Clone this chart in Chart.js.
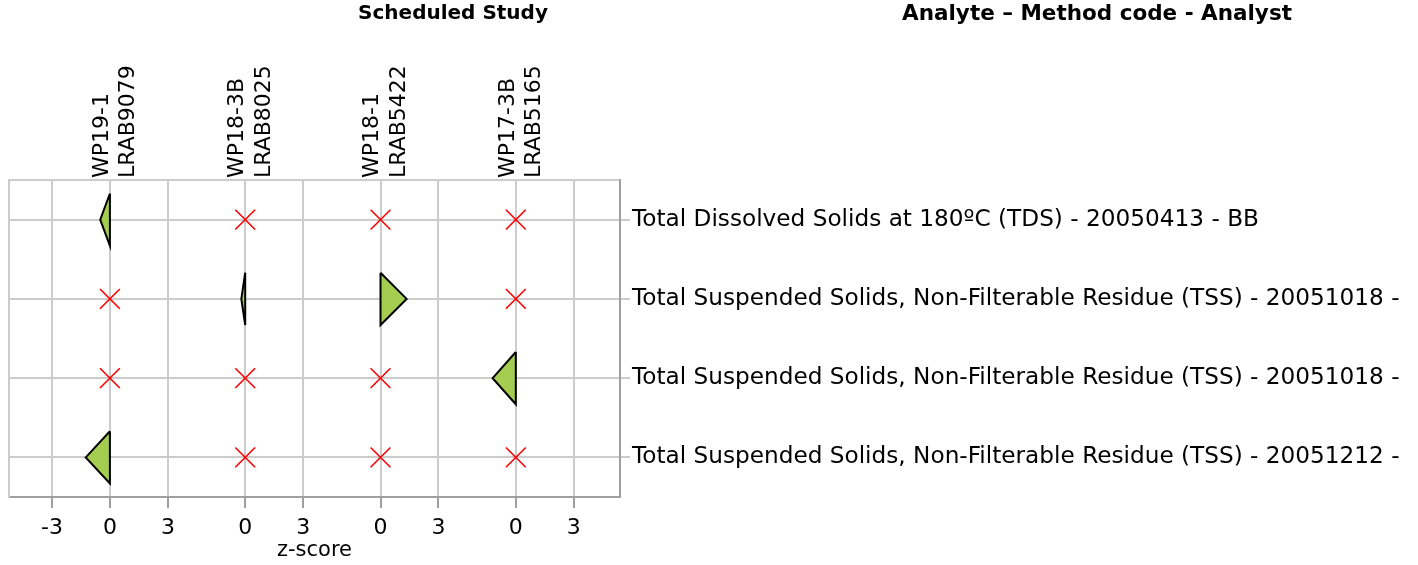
<!DOCTYPE html>
<html>
<head>
<meta charset="utf-8">
<script src="https://cdn.jsdelivr.net/npm/chart.js@4/dist/chart.umd.min.js"></script>
<style>
  html, body { margin: 0; padding: 0; background: #ffffff; }
  #wrap { width: 1418px; height: 565px; position: relative; }
</style>
</head>
<body>
<div id="wrap"><canvas id="c"></canvas></div>
<script>
// Analyte rows (top to bottom)
const analytes = [
  'Total Dissolved Solids at 180ºC (TDS) - 20050413 - BB',
  'Total Suspended Solids, Non-Filterable Residue (TSS) - 20051018 -',
  'Total Suspended Solids, Non-Filterable Residue (TSS) - 20051018 -',
  'Total Suspended Solids, Non-Filterable Residue (TSS) - 20051212 -'
];

// Scheduled studies (left to right)
const studyCodes = ['WP19-1', 'WP18-3B', 'WP18-1', 'WP17-3B'];
const studyLabs  = ['LRAB9079', 'LRAB8025', 'LRAB5422', 'LRAB5165'];

// z-scores per study, one entry per analyte row (null = not reported)
const zWP19_1  = [-0.5, null, null, -1.25];
const zWP18_3B = [null, -0.2, null, null];
const zWP18_1  = [null, 1.35, null, null];
const zWP17_3B = [null, null, -1.2, null];

// z-score tick labels under each study column
const zTicksFirst = [-3, 0, 3];
const zTicksOther = [0, 3];

const zByStudy = [zWP19_1, zWP18_3B, zWP18_1, zWP17_3B];

const STUDY_GAP = 7;     // z units between neighbouring study columns
const HALF_H = 0.33;     // half height of a z-score triangle, in row units
const studyZero = s => s * STUDY_GAP;

// x ticks: every study column gets its own little z-score ruler
const xTicks = [];
zByStudy.forEach((_, s) => {
  (s === 0 ? zTicksFirst : zTicksOther).forEach(t => {
    xTicks.push({ value: studyZero(s) + t, label: String(t) });
  });
});

// one closed triangle per reported z-score, a cross where none was reported
const datasets = [];
const missing = [];
zByStudy.forEach((col, s) => {
  col.forEach((z, r) => {
    const x0 = studyZero(s);
    if (z === null) { missing.push({ x: x0, y: r }); return; }
    datasets.push({
      data: [
        { x: x0, y: r - HALF_H },
        { x: x0 + z, y: r },
        { x: x0, y: r + HALF_H },
        { x: x0, y: r - HALF_H }
      ],
      fill: 'shape',
      backgroundColor: '#a5cd50',
      borderColor: '#000000',
      borderWidth: 2,
      borderJoinStyle: 'miter',
      pointRadius: 0,
      tension: 0
    });
  });
});
datasets.push({
  data: missing,
  showLine: false,
  pointStyle: 'crossRot',
  pointRadius: 14,
  pointBorderColor: '#ff0000',
  pointBorderWidth: 1.6,
  borderColor: '#ff0000'
});

const GRID = '#cccccc';
const AXIS = '#a0a0a0';
const FONT = '"DejaVu Sans", Verdana, sans-serif';

Chart.defaults.font.family = FONT;
Chart.defaults.font.size = 20;
Chart.defaults.color = '#000000';

const headers = {
  id: 'headers',
  afterDraw(chart) {
    const ctx = chart.ctx;
    ctx.save();
    ctx.fillStyle = '#000000';
    ctx.textAlign = 'center';
    ctx.textBaseline = 'middle';
    ctx.font = 'bold 20px ' + FONT;
    ctx.fillText('Scheduled Study', 453, 14);
    ctx.font = 'bold 21.5px ' + FONT;
    ctx.fillText('Analyte – Method code - Analyst', 1097, 14);
    ctx.restore();
  }
};

new Chart(document.getElementById('c'), {
  type: 'line',
  data: { datasets },
  plugins: [headers],
  options: {
    responsive: true,
    maintainAspectRatio: false,
    animation: false,
    events: [],
    layout: { padding: 0, autoPadding: false },
    plugins: { legend: { display: false }, tooltip: { enabled: false } },
    scales: {
      x: {
        type: 'linear',
        position: 'bottom',
        min: -5.22,
        max: 26.39,
        afterBuildTicks: sc => { sc.ticks = xTicks.map(t => ({ value: t.value })); },
        afterFit: sc => { sc.height = 68; },
        ticks: {
          autoSkip: false,
          maxRotation: 0,
          padding: 7,
          font: { size: 22 },
          callback: (v, i) => xTicks[i] ? xTicks[i].label : ''
        },
        grid: { color: GRID, lineWidth: 2, tickColor: AXIS, tickLength: 11 },
        border: { color: AXIS, width: 2 },
        title: { display: true, text: 'z-score', font: { size: 21 }, padding: { top: 0, bottom: 2 } }
      },
      x2: {
        type: 'linear',
        position: 'top',
        min: -5.22,
        max: 26.39,
        afterBuildTicks: sc => { sc.ticks = studyCodes.map((_, s) => ({ value: studyZero(s) })); },
        afterFit: sc => { sc.height = 180; },
        ticks: {
          autoSkip: false,
          minRotation: 90,
          maxRotation: 90,
          padding: 2,
          labelOffset: 45,
          font: { size: 22 },
          callback: (v, i) => [studyCodes[i], studyLabs[i]]
        },
        grid: { display: false, drawTicks: false, tickLength: 0 },
        border: { color: GRID, width: 2 }
      },
      y: {
        type: 'linear',
        position: 'right',
        reverse: true,
        min: -0.5,
        max: 3.5,
        afterBuildTicks: sc => { sc.ticks = analytes.map((_, r) => ({ value: r })); },
        afterFit: sc => { sc.width = 798; },
        ticks: {
          autoSkip: false,
          padding: 2,
          font: { size: 23.2 },
          callback: (v, i) => analytes[i]
        },
        grid: { color: GRID, lineWidth: 2, tickColor: GRID, tickLength: 10 },
        border: { color: AXIS, width: 2 }
      },
      yLeft: {
        type: 'linear',
        position: 'left',
        afterFit: sc => { sc.width = 9; },
        ticks: { display: false },
        grid: { display: false },
        border: { color: GRID, width: 2 }
      }
    }
  }
});
</script>
</body>
</html>
